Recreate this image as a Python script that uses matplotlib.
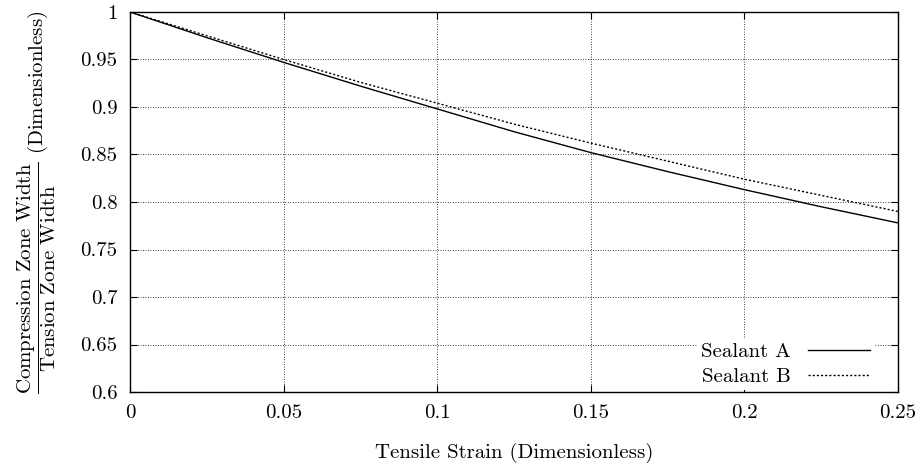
import matplotlib
matplotlib.use("Agg")
import matplotlib.pyplot as plt
from matplotlib.ticker import FormatStrFormatter, MultipleLocator

plt.rcParams["font.family"] = "cmr10"
plt.rcParams["mathtext.fontset"] = "cm"
plt.rcParams["axes.unicode_minus"] = False

# tensile strain vs. compression/tension zone width ratio
strain = [0.0, 0.025, 0.05, 0.075, 0.1, 0.125, 0.15, 0.175, 0.2, 0.225, 0.25]
sealant_a = [1.0, 0.973, 0.947, 0.922, 0.898, 0.874, 0.852, 0.832, 0.813, 0.795, 0.778]
sealant_b = [1.0, 0.975, 0.950, 0.926, 0.904, 0.882, 0.862, 0.843, 0.824, 0.807, 0.790]

fs = 15

fig = plt.figure(figsize=(9.21, 4.66), dpi=100)
ax = fig.add_axes([130 / 921, 74 / 466, 768 / 921, 380 / 466])

ax.plot(strain, sealant_a, color="black", lw=1.0, ls="-", label="Sealant A")
ax.plot(strain, sealant_b, color="black", lw=1.0, ls=(0, (1.5, 1.5)), label="Sealant B")

ax.set_xlim(0, 0.25)
ax.set_ylim(0.6, 1.0)
ax.xaxis.set_major_locator(MultipleLocator(0.05))
ax.yaxis.set_major_locator(MultipleLocator(0.05))
ax.xaxis.set_major_formatter(FormatStrFormatter("%g"))
ax.yaxis.set_major_formatter(FormatStrFormatter("%g"))
ax.tick_params(direction="in", top=True, right=True, length=5, width=0.8,
               labelsize=fs, pad=9)

ax.grid(True, color="black", lw=0.6, ls=(0, (1, 2)))
for s in ax.spines.values():
    s.set_linewidth(1.0)

ax.set_xlabel("Tensile Strain (Dimensionless)", fontsize=fs, labelpad=15)
ax.set_ylabel(r"$\dfrac{\mathrm{Compression\ Zone\ Width}}{\mathrm{Tension\ Zone\ Width}}$ (Dimensionless)",
              fontsize=fs, labelpad=16)

leg = ax.legend(loc="lower right", bbox_to_anchor=(0.969, 0.005),
                markerfirst=False, handlelength=3.0,
                fontsize=fs, frameon=True, fancybox=False, borderaxespad=0,
                borderpad=0.2, labelspacing=0.3, handletextpad=0.8)
leg.get_frame().set_edgecolor("none")
leg.get_frame().set_facecolor("white")
leg.get_frame().set_alpha(1.0)

fig.savefig("out.png", dpi=100)
